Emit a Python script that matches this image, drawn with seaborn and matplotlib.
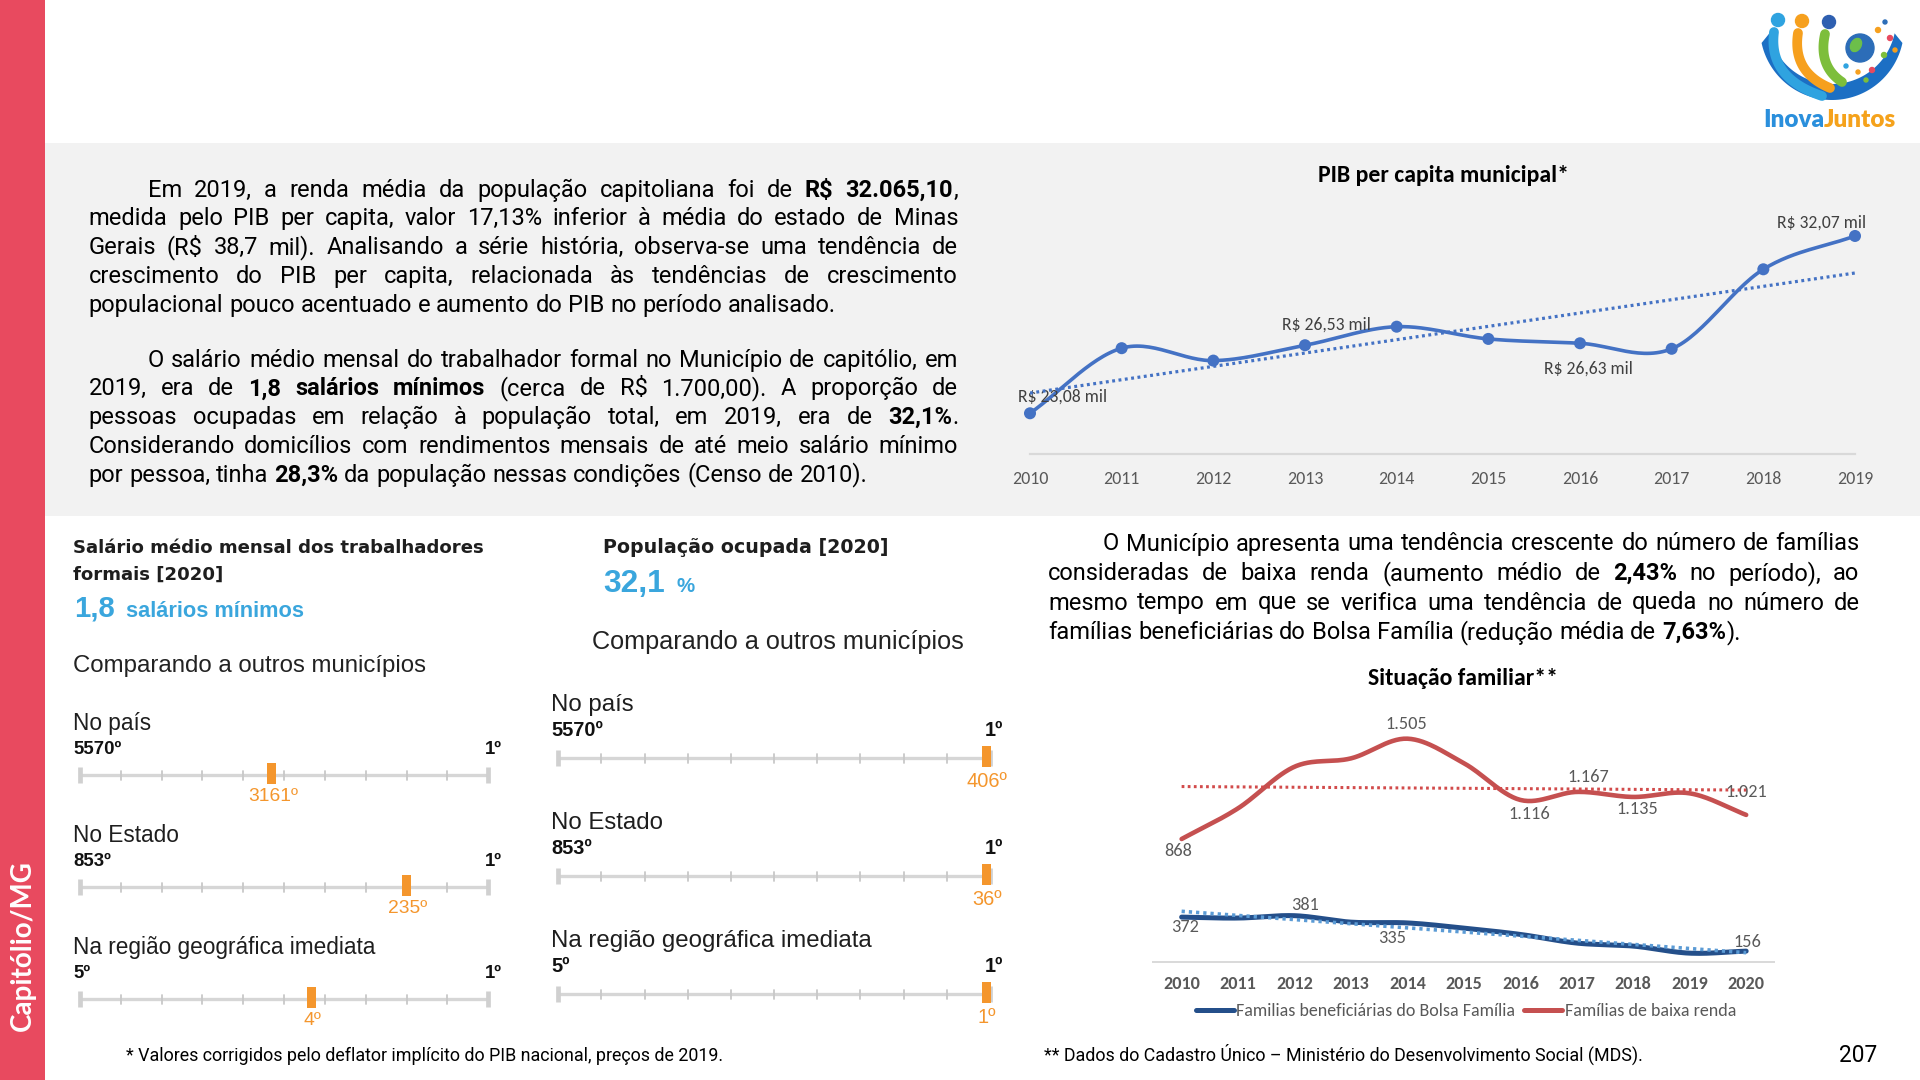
import numpy as np
import pandas as pd
import matplotlib
matplotlib.use("Agg")
import matplotlib.pyplot as plt
import seaborn as sns
from matplotlib import font_manager as fm
from matplotlib.patches import Rectangle, Circle, Ellipse, Polygon
from matplotlib.lines import Line2D

# ---------------------------------------------------------------- data
pib_years = [2010, 2011, 2012, 2013, 2014, 2015, 2016, 2017, 2018, 2019]
pib_values = [23.08, 26.38, 25.75, 26.53, 27.47, 26.85, 26.63, 26.35, 30.38, 32.07]
pib_label_years = [2010, 2013, 2016, 2019]

fam_years = [2010, 2011, 2012, 2013, 2014, 2015, 2016, 2017, 2018, 2019, 2020]
bolsa_familia = [372, 366, 381, 340, 335, 302, 262, 207, 188, 143, 156]
baixa_renda = [868, 1063, 1327, 1380, 1505, 1349, 1116, 1167, 1135, 1158, 1021]
bolsa_label_years = [2010, 2012, 2014, 2020]
baixa_label_years = [2010, 2014, 2016, 2017, 2018, 2020]
fam_series_names = ["Familias beneficiárias do Bolsa Família", "Famílias de baixa renda"]

rank_levels = ["No país", "No Estado", "Na região geográfica imediata"]
rank_totals = [5570, 853, 5]
salario_ranks = [3161, 235, 4]
salario_marker_frac = [0.470, 0.800, 0.567]
ocupada_ranks = [406, 36, 1]
ocupada_marker_frac = [0.991, 0.991, 0.991]
salario_value = "1,8"
ocupada_value = "32,1"

par1 = [
    "Em 2019, a renda média da população capitoliana foi de **R$ 32.065,10**,",
    "medida pelo PIB per capita, valor 17,13% inferior à média do estado de Minas",
    "Gerais (R$ 38,7 mil). Analisando a série história, observa-se uma tendência de",
    "crescimento do PIB per capita, relacionada às tendências de crescimento",
    "populacional pouco acentuado e aumento do PIB no período analisado.",
]
par2 = [
    "O salário médio mensal do trabalhador formal no Município de capitólio, em",
    "2019, era de **1,8 salários mínimos** (cerca de R$ 1.700,00). A proporção de",
    "pessoas ocupadas em relação à população total, em 2019, era de **32,1%**.",
    "Considerando domicílios com rendimentos mensais de até meio salário mínimo",
    "por pessoa, tinha **28,3%** da população nessas condições (Censo de 2010).",
]
par3 = [
    "O Município apresenta uma tendência crescente do número de famílias",
    "consideradas de baixa renda (aumento médio de **2,43%** no período), ao",
    "mesmo tempo em que se verifica uma tendência de queda no número de",
    "famílias beneficiárias do Bolsa Família (redução média de **7,63%**).",
]
foot1 = "* Valores corrigidos pelo deflator implícito do PIB nacional, preços de 2019."
foot2 = "** Dados do Cadastro Único – Ministério do Desenvolvimento Social (MDS)."
page_number = "207"
side_title = "Capitólio/MG"

# ---------------------------------------------------------------- setup
W, H = 1920, 1080
sns.set_theme(style="white")
plt.rcParams['font.family'] = ['DejaVu Sans']


def available(name):
    try:
        fm.findfont(fm.FontProperties(family=name), fallback_to_default=False)
        return True
    except Exception:
        return False


CHART_FONT = next((f for f in ['Carlito', 'Lato', 'Open Sans'] if available(f)), 'DejaVu Sans')
BODY_FONT = next((f for f in ['Roboto', 'Liberation Sans'] if available(f)), 'DejaVu Sans')
ARIAL = 'Liberation Sans' if available('Liberation Sans') else 'DejaVu Sans'
SIDE_FONT = 'Lato' if available('Lato') else 'DejaVu Sans'

fig = plt.figure(figsize=(W / 100, H / 100), dpi=100)
fig.patch.set_facecolor('white')
bg = fig.add_axes([0, 0, 1, 1])
bg.set_xlim(0, W)
bg.set_ylim(H, 0)
bg.axis('off')
bg.set_zorder(0)
R = fig.canvas.get_renderer()


def tw(s, size, family, weight='normal', stretch='normal'):
    t = bg.text(0, 0, s, fontsize=size, family=family, fontweight=weight,
                fontstretch=stretch, parse_math=False)
    w = t.get_window_extent(renderer=R).width
    t.remove()
    return w


def fit(s, width, family, weight='normal', stretch='normal'):
    return 20.0 * width / tw(s, 20, family, weight, stretch)


def put(x, y, s, size, family, weight='normal', color='black', ha='left',
        va='baseline', stretch='normal', **kw):
    return bg.text(x, y, s, fontsize=size, family=family, fontweight=weight,
                   color=color, ha=ha, va=va, fontstretch=stretch,
                   clip_on=False, parse_math=False, **kw)


def px_axes(x0, y0, x1, y1):
    return fig.add_axes([x0 / W, 1 - y1 / H, (x1 - x0) / W, (y1 - y0) / H])


def smooth(x, y, n=30):
    x = np.asarray(x, float)
    y = np.asarray(y, float)
    px = np.concatenate([[2 * x[0] - x[1]], x, [2 * x[-1] - x[-2]]])
    py = np.concatenate([[2 * y[0] - y[1]], y, [2 * y[-1] - y[-2]]])
    xs, ys = [], []
    t = np.linspace(0, 1, n, endpoint=False)
    for i in range(1, len(px) - 2):
        for arr, out in ((px, xs), (py, ys)):
            p0, p1, p2, p3 = arr[i - 1], arr[i], arr[i + 1], arr[i + 2]
            out.append(0.5 * (2 * p1 + (-p0 + p2) * t + (2 * p0 - 5 * p1 + 4 * p2 - p3) * t ** 2
                              + (-p0 + 3 * p1 - 3 * p2 + p3) * t ** 3))
    xs.append([x[-1]])
    ys.append([y[-1]])
    return np.concatenate(xs), np.concatenate(ys)


# ---------------------------------------------------------------- background
bg.add_patch(Rectangle((45, 143), W - 45, 373, color='#F2F2F2', zorder=0, lw=0))
bg.add_patch(Rectangle((0, 0), 45, H, color='#E84A5F', zorder=0, lw=0))
side_fs = fit(side_title, 171, SIDE_FONT, 'bold')
put(23, 946, side_title, side_fs, SIDE_FONT, weight='bold', color='white',
    ha='center', va='center', rotation=90)

# ---------------------------------------------------------------- logo
def bez(p0, p1, p2, n=40):
    t = np.linspace(0, 1, n)[:, None]
    return (1 - t) ** 2 * np.array(p0) + 2 * (1 - t) * t * np.array(p1) + t ** 2 * np.array(p2)

ang = np.radians(np.linspace(12, 168, 80))
outer = np.c_[1832 + 72 * np.cos(ang), 28 + 72 * np.sin(ang)]
inner = np.c_[1832 + 64 * np.cos(ang[::-1]), 20 + 64 * np.sin(ang[::-1])]
bg.add_patch(Polygon(np.vstack([outer, inner]), closed=True, color='#1C6FC4', lw=0, zorder=2))
for (hx, hy), col, (p1, p2) in [((1778, 20), '#2FA3E0', ((1768, 78), (1822, 96))),
                                 ((1802, 21), '#F6A01E', ((1792, 72), (1830, 88))),
                                 ((1829, 22), '#7DBE3B', ((1818, 66), (1842, 82)))]:
    pts = bez((hx - 4, hy + 12), p1, p2)
    bg.plot(pts[:, 0], pts[:, 1], color=col, lw=7, solid_capstyle='round', zorder=3)
    bg.add_patch(Circle((hx, hy), 6.5, color=col if col != '#7DBE3B' else '#2E5FB0', zorder=3))
bg.add_patch(Circle((1860, 48), 14, color='#2C6DB8', zorder=3))
bg.add_patch(Ellipse((1856, 45), 10, 14, angle=30, color='#6CBF4A', zorder=4))
for (dx, dy, r, c) in [(1878, 30, 2.5, '#F6A01E'), (1885, 22, 2, '#2C6DB8'), (1890, 38, 2.5, '#E84A5F'),
                       (1884, 55, 2.5, '#7DBE3B'), (1872, 70, 2.5, '#E84A5F'), (1858, 72, 2, '#F6A01E'),
                       (1846, 66, 2, '#2FA3E0'), (1895, 50, 2, '#F6A01E'), (1866, 80, 2, '#7DBE3B')]:
    bg.add_patch(Circle((dx, dy), r, color=c, zorder=3))
logo_fs = fit("InovaJuntos", 134, SIDE_FONT, 'heavy')
put(1763, 127, "Inova", logo_fs, SIDE_FONT, weight='heavy', color='#2A8FDC')
put(1763 + tw("Inova", logo_fs, SIDE_FONT, 'heavy'), 127, "Juntos", logo_fs, SIDE_FONT,
    weight='heavy', color='#F5A21B')

# ---------------------------------------------------------------- paragraphs
def parse_line(line):
    words, bold = [], False
    for raw in line.split(' '):
        parts = raw.split('**')
        pieces = []
        for k, p in enumerate(parts):
            if k > 0:
                bold = not bold
            if p:
                pieces.append((p, bold))
        if pieces:
            words.append(pieces)
    return words


def draw_par(lines, x0, x1, y0, lh, indent, fs_want, family=BODY_FONT, stretch='normal'):
    parsed = [parse_line(l) for l in lines]

    def widths(fs):
        sp = tw("a a", fs, family, stretch=stretch) - tw("aa", fs, family, stretch=stretch)
        ww = [[sum(tw(p, fs, family, 'bold' if b else 'normal', stretch) for p, b in w) for w in words]
              for words in parsed]
        return sp, ww

    sp, ww = widths(20)
    ratio = min((x1 - x0 - (indent if i == 0 else 0)) / (sum(ww[i]) + sp * (len(ww[i]) - 1))
                for i in range(len(parsed) - 1))
    fs = min(fs_want, 20 * ratio * 0.985)
    sp, ww = widths(fs)
    for i, words in enumerate(parsed):
        xs = x0 + (indent if i == 0 else 0)
        if i == len(parsed) - 1:
            gap = sp
        else:
            gap = (x1 - xs - sum(ww[i])) / (len(words) - 1)
        x = xs
        y = y0 + i * lh
        for w, wid in zip(words, ww[i]):
            xx = x
            for p, b in w:
                wt = 'bold' if b else 'normal'
                put(xx, y, p, fs, family, weight=wt, stretch=stretch)
                xx += tw(p, fs, family, wt, stretch)
            x += wid + gap
    return fs


draw_par(par1, 88.6, 958, 196.7, 28.75, 59, 17.0)
draw_par(par2, 88.6, 958, 366.7, 28.75, 59, 17.0)
draw_par(par3, 1048, 1859.5, 550.5, 29.5, 55, 17.0)

foot_fs = fit(foot1, 599, BODY_FONT)
put(126, 1061, foot1, foot_fs, BODY_FONT)
put(1044.5, 1061, foot2, foot_fs, BODY_FONT)
put(1858, 1062, page_number, fit(page_number, 38, BODY_FONT), BODY_FONT, ha='center')

# ---------------------------------------------------------------- ranking widgets
ORANGE = '#F4962D'
BLUE_TXT = '#3AA6DD'
head_bold = 'DejaVu Sans'

# left header
hfs = fit("Salário médio mensal dos trabalhadores", 413, head_bold, 'bold')
put(73.3, 553.3, "Salário médio mensal dos trabalhadores", hfs, head_bold, 'bold', '#1E1E1E')
put(73.3, 580, "formais [2020]", hfs, head_bold, 'bold', '#1E1E1E')
big_fs = fit(salario_value, 40.7, ARIAL, 'bold')
put(74.3, 616.7, salario_value, big_fs, ARIAL, 'bold', BLUE_TXT)
put(126, 616.7, "salários mínimos", fit("salários mínimos", 177, ARIAL, 'bold'), ARIAL, 'bold', BLUE_TXT)
put(73.3, 671.7, "Comparando a outros municípios",
    fit("Comparando a outros municípios", 351.7, ARIAL), ARIAL, 'normal', '#222222')

# right header
put(603.3, 553.3, "População ocupada [2020]", fit("População ocupada [2020]", 285, head_bold, 'bold'),
    head_bold, 'bold', '#1E1E1E')
put(603.3, 591.7, ocupada_value, fit(ocupada_value, 61.7, ARIAL, 'bold'), ARIAL, 'bold', BLUE_TXT)
put(676.7, 591.7, "%", fit("%", 18.3, ARIAL, 'bold'), ARIAL, 'bold', BLUE_TXT)
put(591.7, 649.3, "Comparando a outros municípios",
    fit("Comparando a outros municípios", 371.7, ARIAL), ARIAL, 'normal', '#222222')


def widget(x0, x1, ly0, dy, ranks, fracs, head_w, rank_w, mark_w, offs, mk):
    head_fs = fit(rank_levels[2], head_w, ARIAL)
    rank_fs = fit(f"{rank_totals[0]}º", rank_w, ARIAL, 'bold')
    mark_fs = fit(mk, mark_w, ARIAL)
    for i, (level, total, rank, frac) in enumerate(zip(rank_levels, rank_totals, ranks, fracs)):
        y = ly0 + i * dy
        bg.plot([x0, x1], [y, y], color='#D6D6D6', lw=2.4, solid_capstyle='butt', zorder=2)
        for k, tx in enumerate(np.linspace(x0, x1, 11)):
            if k in (0, 10):
                bg.plot([tx, tx], [y - 8, y + 8], color='#D0D0D0', lw=3.4, solid_capstyle='butt', zorder=2)
            else:
                bg.plot([tx, tx], [y - 4.5, y + 4.5], color='#C8C8C8', lw=1.3, zorder=2)
        mx = x0 + frac * (x1 - x0)
        bg.add_patch(Rectangle((mx - 4.5, y - 12), 9, 21, color=ORANGE, zorder=3, lw=0))
        put(x0 - 7, y + offs[0], level, head_fs, ARIAL, 'normal', '#1E1E1E')
        put(x0 - 7, y + offs[1], f"{total}º", rank_fs, ARIAL, 'bold', '#111111')
        put(x1 + 13.4, y + offs[1], "1º", rank_fs, ARIAL, 'bold', '#111111', ha='right')
        put(mx + 1, y + offs[2], f"{rank}º", mark_fs, ARIAL, 'normal', ORANGE, ha='center')


widget(80, 488.3, 775, 112, salario_ranks, salario_marker_frac, 301.7, 48.3, 50,
       (-45, -20.5, 26), "3161º")
widget(558.3, 990, 758.3, 118, ocupada_ranks, ocupada_marker_frac, 319.3, 52, 40.7,
       (-47.3, -22.3, 28.7), "406º")

# ---------------------------------------------------------------- PIB chart
PIB_BLUE = '#4472C4'
ax1 = px_axes(1030, 197.9, 1855, 454.3)
idx1 = np.arange(len(pib_years))
sx, sy = smooth(idx1, pib_values)
sns.lineplot(x=sx, y=sy, ax=ax1, color=PIB_BLUE, lw=2.6, estimator=None, sort=False,
             clip_on=False, zorder=3)
sns.scatterplot(x=idx1, y=pib_values, ax=ax1, color=PIB_BLUE, s=75, edgecolor='none',
                zorder=4, clip_on=False)
sns.regplot(x=idx1, y=pib_values, ax=ax1, scatter=False, ci=None, truncate=True,
            line_kws=dict(color=PIB_BLUE, lw=2.3, ls=(0, (0.9, 1.1)), zorder=5))
ax1.set_xlim(0, 9)
ax1.set_ylim(21, 34)
ax1.set_facecolor('none')
sns.despine(ax=ax1, left=True)
ax1.spines['bottom'].set_color('#D9D9D9')
ax1.spines['bottom'].set_linewidth(1.6)
ax1.set_yticks([])
ax1.set_xlabel('')
ax1.set_ylabel('')
yr_fs = fit("2010", 36.5, CHART_FONT)
ax1.set_xticks(idx1, labels=[str(y) for y in pib_years], fontfamily=CHART_FONT,
               fontsize=yr_fs, color='#595959')
ax1.tick_params(axis='x', length=0, pad=12)
lab_fs = fit("R$ 32,07 mil", 89, CHART_FONT)
pib_offsets = {2010: (33, 17), 2013: (21, 21), 2016: (8, -25), 2019: (-33, 13)}
for yr in pib_label_years:
    v = pib_values[pib_years.index(yr)]
    ax1.annotate(f"R$ {v:.2f} mil".replace('.', ','), (pib_years.index(yr), v),
                 xytext=pib_offsets[yr], textcoords='offset pixels', ha='center', va='center',
                 fontsize=lab_fs, family=CHART_FONT, color='#404040', annotation_clip=False)
ttl_fs = fit("PIB per capita municipal*", 251, CHART_FONT, 'bold')
put(1443, 182, "PIB per capita municipal*", ttl_fs, CHART_FONT, 'bold', 'black', ha='center')

# ---------------------------------------------------------------- Situação familiar chart
RED = '#C55050'
NAVY = '#244F8A'
ax2 = px_axes(1153.4, 700.1, 1774.4, 962.3)
idx2 = np.arange(len(fam_years))
rx, ry = smooth(idx2, baixa_renda)
bx, by = smooth(idx2, bolsa_familia)
sns.lineplot(x=rx, y=ry, ax=ax2, color=RED, lw=3.3, estimator=None, sort=False, zorder=3,
             solid_capstyle='round')
sns.lineplot(x=bx, y=by, ax=ax2, color=NAVY, lw=3.6, estimator=None, sort=False, zorder=3,
             solid_capstyle='round')
sns.regplot(x=idx2, y=baixa_renda, ax=ax2, scatter=False, ci=None, truncate=True,
            line_kws=dict(color='#D24B4B', lw=2.2, ls=(0, (0.9, 1.1)), zorder=4))
sns.regplot(x=idx2, y=bolsa_familia, ax=ax2, scatter=False, ci=None, truncate=True,
            line_kws=dict(color='#5B9BD5', lw=2.6, ls=(0, (0.9, 1.1)), zorder=4))
ax2.set_xlim(-0.5, 10.5)
ax2.set_ylim(85, 1750)
ax2.set_facecolor('none')
sns.despine(ax=ax2, left=True)
ax2.spines['bottom'].set_color('#D9D9D9')
ax2.spines['bottom'].set_linewidth(1.4)
ax2.set_yticks([])
ax2.set_xlabel('')
ax2.set_ylabel('')
yr2_fs = fit("2010", 36.7, CHART_FONT, 'bold')
ax2.set_xticks(idx2, labels=[str(y) for y in fam_years], fontfamily=CHART_FONT,
               fontsize=yr2_fs, fontweight='bold', color='#595959')
ax2.tick_params(axis='x', length=0, pad=10)
lab2_fs = fit("1.505", 41.6, CHART_FONT)
baixa_off = {2010: (-3, -12), 2014: (-1, 15), 2016: (9, -14), 2017: (12, 15), 2018: (4, -12), 2020: (0, 23)}
bolsa_off = {2010: (3, -10), 2012: (11, 11), 2014: (-15, -15), 2020: (1, 9)}
for series, lab_years, offs in ((baixa_renda, baixa_label_years, baixa_off),
                                (bolsa_familia, bolsa_label_years, bolsa_off)):
    for yr in lab_years:
        i = fam_years.index(yr)
        ax2.annotate(f"{series[i]:,}".replace(',', '.'), (i, series[i]), xytext=offs[yr],
                     textcoords='offset pixels', ha='center', va='center', fontsize=lab2_fs,
                     family=CHART_FONT, color='#595959', annotation_clip=False)
put(1462.7, 685, "Situação familiar**", fit("Situação familiar**", 190, CHART_FONT, 'bold'),
    CHART_FONT, 'bold', 'black', ha='center')

leg_fs = fit(fam_series_names[0], 279, CHART_FONT)
handles = [Line2D([], [], color=NAVY, lw=3.6, solid_capstyle='round'),
           Line2D([], [], color=RED, lw=3.6, solid_capstyle='round')]
fig.legend(handles, fam_series_names, loc='center', bbox_to_anchor=(1466 / W, 1 - 1011.5 / H),
           ncol=2, frameon=False, handlelength=38 / (leg_fs * 100 / 72), handletextpad=0.15,
           columnspacing=0.5, prop=dict(family=CHART_FONT, size=leg_fs), labelcolor='#595959')

fig.savefig("out.png", dpi=100, facecolor='white')
